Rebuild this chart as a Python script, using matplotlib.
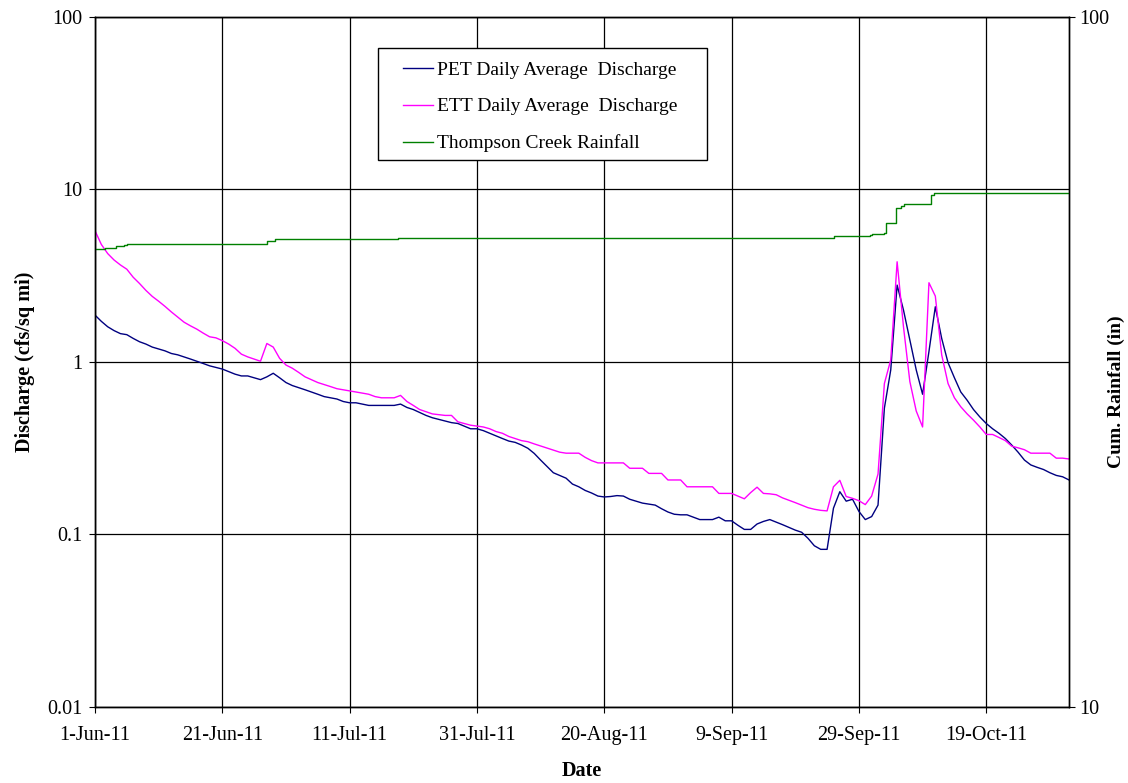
import matplotlib
matplotlib.use('Agg')
import matplotlib.pyplot as plt
import matplotlib.ticker as mticker
import matplotlib.dates as mdates
import pandas as pd
from matplotlib.lines import Line2D
from matplotlib.patches import Rectangle

plt.rcParams['font.family'] = ['Liberation Serif', 'DejaVu Serif']

# Daily average discharge (cfs/sq mi), 1-Jun-11 .. 1-Nov-11
start = pd.Timestamp('2011-06-01')
pet_q = [
    1.87, 1.72, 1.60, 1.52, 1.46, 1.44, 1.37, 1.31, 1.27, 1.22,
    1.19, 1.16, 1.12, 1.10, 1.07, 1.04, 1.01, 0.98, 0.95, 0.93,
    0.91, 0.88, 0.85, 0.83, 0.83, 0.81, 0.79, 0.82, 0.86, 0.81,
    0.76, 0.73, 0.71, 0.69, 0.67, 0.65, 0.63, 0.62, 0.61, 0.59,
    0.58, 0.58, 0.57, 0.56, 0.56, 0.56, 0.56, 0.56, 0.57, 0.545,
    0.53, 0.51, 0.49, 0.475, 0.465, 0.455, 0.445, 0.44, 0.425, 0.41,
    0.41, 0.40, 0.386, 0.372, 0.36, 0.348, 0.342, 0.33, 0.316, 0.295,
    0.27, 0.248, 0.228, 0.22, 0.212, 0.196, 0.189, 0.18, 0.174, 0.167,
    0.165, 0.166, 0.168, 0.167, 0.160, 0.156, 0.152, 0.150, 0.148, 0.141,
    0.135, 0.131, 0.130, 0.130, 0.126, 0.122, 0.122, 0.122, 0.126, 0.120,
    0.120, 0.113, 0.107, 0.107, 0.115, 0.119, 0.122, 0.118, 0.114, 0.110,
    0.106, 0.103, 0.095, 0.086, 0.082, 0.082, 0.142, 0.177, 0.156, 0.160,
    0.136, 0.122, 0.127, 0.148, 0.54, 0.90, 2.79, 2.0, 1.34, 0.90,
    0.65, 1.15, 2.09, 1.37, 0.99, 0.81, 0.67, 0.60, 0.53, 0.48,
    0.44, 0.41, 0.386, 0.36, 0.33, 0.30, 0.27, 0.253, 0.245, 0.238,
    0.228, 0.22, 0.216, 0.207,
]
ett_q = [
    5.77, 4.80, 4.25, 3.90, 3.65, 3.45, 3.10, 2.85, 2.60, 2.40,
    2.25, 2.10, 1.95, 1.82, 1.70, 1.62, 1.55, 1.47, 1.40, 1.38,
    1.33, 1.27, 1.20, 1.11, 1.07, 1.04, 1.01, 1.28, 1.22, 1.05,
    0.96, 0.92, 0.87, 0.82, 0.79, 0.76, 0.74, 0.72, 0.70, 0.69,
    0.68, 0.67, 0.66, 0.65, 0.63, 0.62, 0.62, 0.62, 0.64, 0.59,
    0.56, 0.53, 0.515, 0.50, 0.495, 0.49, 0.49, 0.45, 0.44, 0.43,
    0.425, 0.42, 0.41, 0.395, 0.386, 0.37, 0.36, 0.35, 0.345, 0.335,
    0.326, 0.317, 0.309, 0.30, 0.296, 0.296, 0.296, 0.28, 0.268, 0.26,
    0.26, 0.26, 0.26, 0.26, 0.242, 0.242, 0.242, 0.226, 0.226, 0.226,
    0.207, 0.207, 0.207, 0.189, 0.189, 0.189, 0.189, 0.189, 0.173, 0.173,
    0.173, 0.167, 0.161, 0.175, 0.188, 0.173, 0.172, 0.170, 0.163, 0.158,
    0.153, 0.148, 0.143, 0.140, 0.138, 0.137, 0.189, 0.206, 0.166, 0.162,
    0.157, 0.149, 0.167, 0.224, 0.75, 1.03, 3.81, 1.60, 0.77, 0.52,
    0.42, 2.88, 2.41, 1.10, 0.75, 0.62, 0.55, 0.50, 0.46, 0.42,
    0.38, 0.38, 0.365, 0.35, 0.325, 0.318, 0.31, 0.296, 0.296, 0.296,
    0.296, 0.277, 0.277, 0.274,
]

# Cumulative rainfall steps (days after 1-Jun-11, inches)
rain_day = [0, 1.5, 3.3, 4.6, 5.0, 27.0, 27.4, 28.2, 47.6, 116.1,
            121.8, 122.1, 123.9, 124.3, 125.5, 125.9, 126.6, 127.1,
            131.4, 131.8, 153.0]
rain_in = [46.1, 46.2, 46.5, 46.7, 46.9, 47.3, 47.4, 47.6, 47.8, 48.2,
           48.3, 48.4, 48.7, 50.2, 50.3, 52.8, 53.2, 53.6,
           55.2, 55.5, 55.5]

n_days = 153
tick_step = 20

dates = pd.date_range(start, periods=len(pet_q), freq='D')
rain_dates = [start + pd.Timedelta(days=d) for d in rain_day]

fig = plt.figure(figsize=(11.28, 7.83), dpi=100)
ax = fig.add_axes([0.0842, 0.0971, 0.8635, 0.8812])
ax2 = ax.twinx()

ax.plot(dates, pet_q, color='#000080', linewidth=1.0)
ax.plot(dates, ett_q, color='#FF00FF', linewidth=1.0)
ax2.step(rain_dates, rain_in, where='post', color='#008000', linewidth=1.0)

# Left axis
ax.set_yscale('log')
ax.set_ylim(0.01, 100)
ax.yaxis.set_major_locator(mticker.LogLocator(base=10, numticks=10))
ax.yaxis.set_minor_locator(mticker.NullLocator())
ax.yaxis.set_major_formatter(mticker.FuncFormatter(lambda v, p: f'{v:g}'))
ax.set_ylabel('Discharge (cfs/sq mi)', fontsize=14.5, fontweight='bold', labelpad=9)

# Right axis
ax2.set_yscale('log')
ax2.set_ylim(10, 100)
ax2.yaxis.set_major_locator(mticker.FixedLocator([10, 100]))
ax2.yaxis.set_minor_locator(mticker.NullLocator())
ax2.yaxis.set_major_formatter(mticker.FuncFormatter(lambda v, p: f'{v:g}'))
fig.text(1116 / 1128, 0.5, 'Cum. Rainfall (in)', rotation=90, ha='center', va='center',
         fontsize=14, fontweight='bold')

# Date axis
end = start + pd.Timedelta(days=n_days)
ax.set_xlim(start, end)
xticks = [start + pd.Timedelta(days=d) for d in range(0, n_days, tick_step)]
ax.xaxis.set_major_locator(mticker.FixedLocator(mdates.date2num(xticks)))
ax.xaxis.set_major_formatter(mticker.FuncFormatter(
    lambda v, p: f"{mdates.num2date(v).day}-{mdates.num2date(v):%b-%y}"))
ax.set_xlabel('Date', fontsize=14.5, fontweight='bold', labelpad=11)

for a in (ax, ax2):
    a.tick_params(axis='both', labelsize=14.5, direction='out', length=4, color='black')
ax.tick_params(axis='x', pad=10)
ax.tick_params(axis='y', pad=5)
ax2.tick_params(axis='y', pad=3)

# Grid
ax.grid(True, which='major', color='black', linewidth=0.9)
ax.set_axisbelow(True)
for spine in list(ax.spines.values()) + list(ax2.spines.values()):
    spine.set_color('black')
    spine.set_linewidth(1.0)

# Legend: frame drawn separately so the padding matches
frame = Rectangle((0.2906, 0.7928), 0.3374, 0.1622, transform=ax2.transAxes,
                  facecolor='white', edgecolor='black', linewidth=1.0, zorder=4)
ax2.add_patch(frame)
handles = [
    Line2D([], [], color='#000080', linewidth=1.0),
    Line2D([], [], color='#FF00FF', linewidth=1.0),
    Line2D([], [], color='#008000', linewidth=1.0),
]
labels = ['PET Daily Average  Discharge', 'ETT Daily Average  Discharge',
          'Thompson Creek Rainfall']
legend = ax2.legend(handles, labels, loc='upper left', bbox_to_anchor=(0.3162, 0.936),
                    fontsize=14, frameon=False, handlelength=1.55, handletextpad=0.2,
                    labelspacing=0.98, borderpad=0, borderaxespad=0)
legend.set_zorder(5)

plt.savefig('out.png', dpi=100)
plt.close(fig)
